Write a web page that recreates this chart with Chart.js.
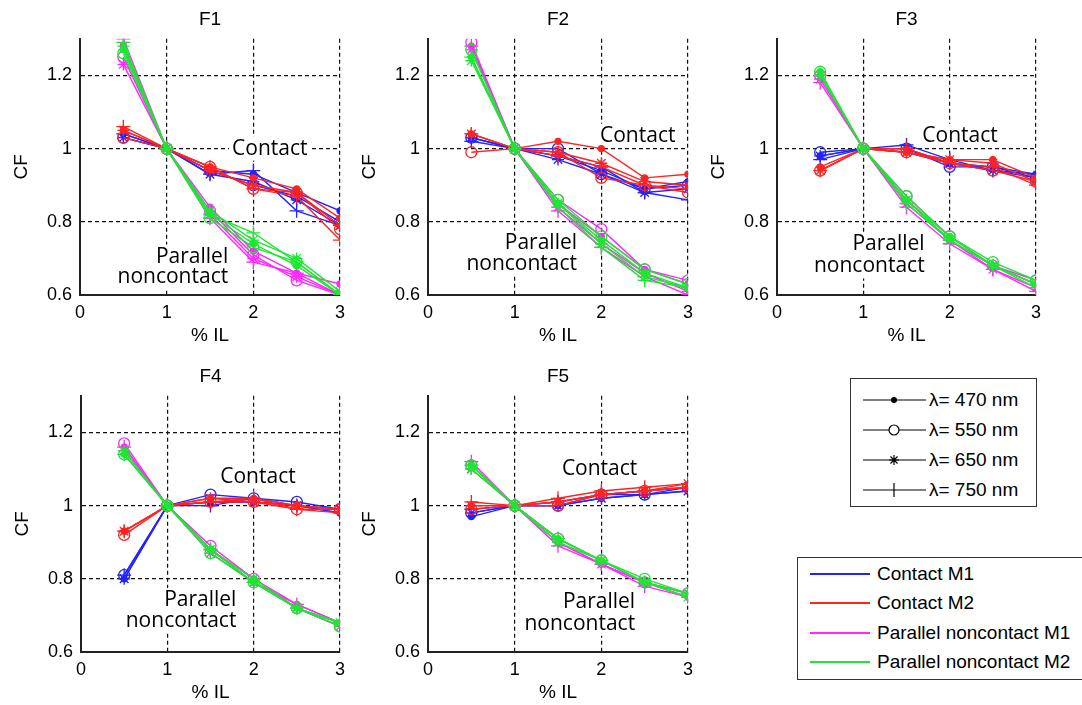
<!DOCTYPE html>
<html>
<head>
<meta charset="utf-8">
<script src="https://cdn.jsdelivr.net/npm/chart.js@4.4.1/dist/chart.umd.min.js"></script>
<style>
  body { margin: 0; background: #fff; width: 1082px; height: 705px; position: relative; overflow: hidden;
         font-family: "Liberation Sans", Arial, sans-serif; }
  canvas { position: absolute; }
  .legend { position: absolute; border: 1.5px solid #333; background: #fff; box-sizing: border-box; }
  .row { position: absolute; left: 0; height: 28px; display: flex; align-items: center; font-size: 19px; color: #000; white-space: nowrap; }
  .row svg { flex: none; }
</style>
</head>
<body>
<canvas id="f1" width="355" height="350" style="left:0px;top:0px"></canvas>
<canvas id="f2" width="355" height="350" style="left:348px;top:0px"></canvas>
<canvas id="f3" width="354" height="350" style="left:697px;top:0px"></canvas>
<canvas id="f4" width="354" height="350" style="left:1px;top:357px"></canvas>
<canvas id="f5" width="355" height="350" style="left:348px;top:357px"></canvas>
<div id="legendMarks" class="legend" style="left:850px;top:378px;width:187px;height:129px"></div>
<div id="legendGroups" class="legend" style="left:797px;top:557px;width:300px;height:123px"></div>
<script>
// x positions (% IL) and labels
const IL = [0.5, 1, 1.5, 2, 2.5, 3];
const WAVELENGTHS = ['470', '550', '650', '750'];
const GROUPS = ['Contact M1', 'Contact M2', 'Parallel noncontact M1', 'Parallel noncontact M2'];
const X_TICKS = [0, 1, 2, 3];
const Y_TICKS = [0.6, 0.8, 1, 1.2];

// each array: rows are lambda = 470, 550, 650, 750 nm
const f1ContactM1 = [
  [1.04, 1, 0.94, 0.93, 0.88, 0.83],
  [1.03, 1, 0.94, 0.90, 0.87, 0.80],
  [1.03, 1, 0.93, 0.91, 0.86, 0.79],
  [1.04, 1, 0.93, 0.94, 0.83, 0.79]];
const f1ContactM2 = [
  [1.05, 1, 0.95, 0.92, 0.89, 0.81],
  [1.03, 1, 0.95, 0.89, 0.88, 0.78],
  [1.05, 1, 0.94, 0.90, 0.88, 0.79],
  [1.06, 1, 0.95, 0.89, 0.87, 0.75]];
const f1ParallelM1 = [
  [1.28, 1, 0.84, 0.72, 0.66, 0.63],
  [1.25, 1, 0.83, 0.71, 0.64, 0.60],
  [1.23, 1, 0.82, 0.70, 0.65, 0.60],
  [1.30, 1, 0.81, 0.69, 0.66, 0.60]];
const f1ParallelM2 = [
  [1.27, 1, 0.82, 0.74, 0.68, 0.60],
  [1.26, 1, 0.81, 0.73, 0.69, 0.60],
  [1.28, 1, 0.83, 0.75, 0.70, 0.61],
  [1.29, 1, 0.82, 0.77, 0.69, 0.60]];

const f2ContactM1 = [
  [1.03, 1, 0.98, 0.94, 0.89, 0.91],
  [1.03, 1, 1.00, 0.93, 0.89, 0.90],
  [1.03, 1, 0.97, 0.93, 0.88, 0.89],
  [1.02, 1, 0.98, 0.95, 0.88, 0.86]];
const f2ContactM2 = [
  [1.04, 1, 1.02, 1.00, 0.92, 0.93],
  [0.99, 1, 0.99, 0.92, 0.90, 0.88],
  [1.04, 1, 0.99, 0.96, 0.91, 0.90],
  [1.04, 1, 0.98, 0.95, 0.90, 0.89]];
const f2ParallelM1 = [
  [1.28, 1, 0.85, 0.76, 0.67, 0.63],
  [1.29, 1, 0.86, 0.78, 0.67, 0.64],
  [1.27, 1, 0.84, 0.74, 0.66, 0.61],
  [1.28, 1, 0.83, 0.73, 0.65, 0.60]];
const f2ParallelM2 = [
  [1.25, 1, 0.85, 0.75, 0.66, 0.62],
  [1.27, 1, 0.86, 0.76, 0.67, 0.63],
  [1.24, 1, 0.85, 0.74, 0.65, 0.62],
  [1.25, 1, 0.84, 0.73, 0.64, 0.62]];

const f3ContactM1 = [
  [0.98, 1, 1.00, 0.96, 0.95, 0.93],
  [0.99, 1, 1.00, 0.95, 0.95, 0.92],
  [0.98, 1, 0.99, 0.96, 0.94, 0.92],
  [0.97, 1, 1.01, 0.97, 0.94, 0.93]];
const f3ContactM2 = [
  [0.95, 1, 0.99, 0.97, 0.97, 0.92],
  [0.94, 1, 0.99, 0.96, 0.94, 0.91],
  [0.94, 1, 0.99, 0.97, 0.96, 0.91],
  [0.94, 1, 1.00, 0.96, 0.95, 0.90]];
const f3ParallelM1 = [
  [1.20, 1, 0.86, 0.75, 0.68, 0.63],
  [1.20, 1, 0.87, 0.76, 0.68, 0.64],
  [1.19, 1, 0.85, 0.75, 0.67, 0.62],
  [1.18, 1, 0.84, 0.74, 0.67, 0.61]];
const f3ParallelM2 = [
  [1.21, 1, 0.86, 0.76, 0.68, 0.63],
  [1.21, 1, 0.87, 0.76, 0.69, 0.64],
  [1.20, 1, 0.86, 0.75, 0.68, 0.63],
  [1.20, 1, 0.85, 0.75, 0.68, 0.62]];

const f4ContactM1 = [
  [0.80, 1, 1.01, 1.01, 1.00, 0.98],
  [0.81, 1, 1.03, 1.02, 1.01, 0.99],
  [0.80, 1, 1.01, 1.01, 1.00, 0.99],
  [0.81, 1, 1.00, 1.02, 1.00, 0.98]];
const f4ContactM2 = [
  [0.93, 1, 1.02, 1.02, 1.00, 0.99],
  [0.92, 1, 1.01, 1.01, 0.99, 0.99],
  [0.93, 1, 1.02, 1.01, 1.00, 0.99],
  [0.93, 1, 1.01, 1.02, 0.99, 0.98]];
const f4ParallelM1 = [
  [1.16, 1, 0.88, 0.80, 0.73, 0.68],
  [1.17, 1, 0.89, 0.80, 0.72, 0.67],
  [1.15, 1, 0.87, 0.79, 0.72, 0.67],
  [1.16, 1, 0.88, 0.79, 0.73, 0.68]];
const f4ParallelM2 = [
  [1.14, 1, 0.88, 0.79, 0.72, 0.68],
  [1.14, 1, 0.87, 0.79, 0.72, 0.67],
  [1.15, 1, 0.88, 0.80, 0.72, 0.68],
  [1.14, 1, 0.88, 0.79, 0.72, 0.68]];

const f5ContactM1 = [
  [0.97, 1, 1.00, 1.02, 1.03, 1.04],
  [0.98, 1, 1.00, 1.03, 1.03, 1.05],
  [0.98, 1, 1.00, 1.02, 1.03, 1.04],
  [0.99, 1, 1.01, 1.03, 1.04, 1.05]];
const f5ContactM2 = [
  [1.00, 1, 1.01, 1.03, 1.04, 1.05],
  [0.99, 1, 1.00, 1.03, 1.04, 1.05],
  [1.00, 1, 1.01, 1.03, 1.04, 1.06],
  [1.01, 1, 1.02, 1.04, 1.05, 1.06]];
const f5ParallelM1 = [
  [1.11, 1, 0.90, 0.84, 0.79, 0.75],
  [1.11, 1, 0.91, 0.85, 0.79, 0.76],
  [1.10, 1, 0.90, 0.84, 0.79, 0.76],
  [1.12, 1, 0.89, 0.84, 0.78, 0.75]];
const f5ParallelM2 = [
  [1.11, 1, 0.91, 0.85, 0.79, 0.76],
  [1.11, 1, 0.91, 0.85, 0.80, 0.76],
  [1.10, 1, 0.90, 0.85, 0.79, 0.75],
  [1.11, 1, 0.91, 0.85, 0.79, 0.76]];

// styles
const GROUP_COLORS = ['rgb(35,35,255)', 'rgb(255,35,35)', 'rgb(255,40,255)', 'rgb(30,230,50)'];
const MARKERS = [
  { style: 'circle', r: 3, fill: true },
  { style: 'circle', r: 5.5, fill: false },
  { style: 'star', r: 6, fill: false },
  { style: 'cross', r: 7, fill: false }
];
const tickFont = { family: '"Liberation Sans", Arial, sans-serif', size: 18 };
const labelFont = { family: '"Liberation Sans", Arial, sans-serif', size: 19 };

// "Contact" / "Parallel noncontact" text in data coordinates, on a white box
const notesPlugin = {
  id: 'notes',
  beforeDatasetsDraw(chart, args, opts) {
    const { ctx, scales: { x, y } } = chart;
    ctx.save();
    ctx.font = '21px "Open Sans", "DejaVu Sans", sans-serif';
    ctx.textBaseline = 'middle';
    opts.items.forEach(n => {
      const px = x.getPixelForValue(n.x);
      const py = y.getPixelForValue(n.y);
      const w = ctx.measureText(n.text).width;
      const left = n.align === 'right' ? px - w : px - w / 2;
      ctx.fillStyle = '#fff';
      ctx.fillRect(left - 3, py - 12, w + 6, 24);
      ctx.fillStyle = '#000';
      ctx.textAlign = n.align;
      ctx.fillText(n.text, px, py);
    });
    ctx.restore();
  }
};

function axis(min, max, ticks, fit, title, titlePad, tickPad) {
  return {
    type: 'linear', min, max,
    afterFit: fit,
    afterBuildTicks: s => { s.ticks = ticks.map(v => ({ value: v })); },
    ticks: { color: '#000', font: tickFont, padding: tickPad, maxRotation: 0, callback: v => String(v) },
    grid: { color: '#111', lineWidth: 1.2, drawTicks: false },
    border: { color: '#222', width: 2, dash: [4, 3] },
    title: { display: true, text: title, color: '#000', font: labelFont, padding: titlePad }
  };
}

function makePanel(id, title, groups, notes) {
  const datasets = [];
  groups.forEach((grp, g) => {
    grp.forEach((vals, w) => {
      const m = MARKERS[w];
      datasets.push({
        label: GROUPS[g] + ', λ= ' + WAVELENGTHS[w] + ' nm',
        data: IL.map((x, i) => ({ x: x, y: vals[i] })),
        borderColor: GROUP_COLORS[g],
        backgroundColor: m.fill ? GROUP_COLORS[g] : 'transparent',
        borderWidth: 1.4,
        pointStyle: m.style,
        pointRadius: m.r,
        pointBorderWidth: 1.3,
        order: 4 - g
      });
    });
  });

  new Chart(document.getElementById(id), {
    type: 'line',
    data: { datasets },
    options: {
      responsive: false,
      animation: false,
      events: [],
      layout: { padding: { left: 0, top: 0, right: 15, bottom: 0 } },
      plugins: {
        legend: { display: false },
        tooltip: { enabled: false },
        title: { display: true, fullSize: false, text: title, color: '#000',
                 font: { ...labelFont, weight: 'normal' }, padding: { top: 8, bottom: 8 } },
        notes: { items: notes }
      },
      scales: {
        x: axis(0, 3, X_TICKS, s => { s.height = 55; }, '% IL', { top: 0, bottom: 3 }, 7),
        y: axis(0.6, 1.3, Y_TICKS, s => { s.width = 80; }, 'CF', { top: 10, bottom: 0 }, 8)
      }
    },
    plugins: [notesPlugin]
  });
}

function notesAt(cx, cy, px, py1, py2) {
  return [
    { text: 'Contact', x: cx, y: cy, align: 'center' },
    { text: 'Parallel', x: px, y: py1, align: 'right' },
    { text: 'noncontact', x: px, y: py2, align: 'right' }
  ];
}

makePanel('f1', 'F1', [f1ContactM1, f1ContactM2, f1ParallelM1, f1ParallelM2], notesAt(2.19, 1.0, 1.71, 0.705, 0.65));
makePanel('f2', 'F2', [f2ContactM1, f2ContactM2, f2ParallelM1, f2ParallelM2], notesAt(2.42, 1.035, 1.72, 0.743, 0.684));
makePanel('f3', 'F3', [f3ContactM1, f3ContactM2, f3ParallelM1, f3ParallelM2], notesAt(2.12, 1.035, 1.71, 0.738, 0.678));
makePanel('f4', 'F4', [f4ContactM1, f4ContactM2, f4ParallelM1, f4ParallelM2], notesAt(2.05, 1.079, 1.80, 0.742, 0.685));
makePanel('f5', 'F5', [f5ContactM1, f5ContactM2, f5ParallelM1, f5ParallelM2], notesAt(1.98, 1.099, 2.39, 0.737, 0.677));

// legends
function markerSvg(i, cx) {
  const c = '#000';
  if (i === 0) return `<circle cx="${cx}" cy="14" r="3" fill="${c}"/>`;
  if (i === 1) return `<circle cx="${cx}" cy="14" r="5" fill="#fff" stroke="${c}" stroke-width="1.2"/>`;
  if (i === 2) return `<path d="M${cx - 5} 14h10M${cx} 9v10M${cx - 3.5} 10.5l7 7M${cx + 3.5} 10.5l-7 7" stroke="${c}" stroke-width="1.2"/>`;
  return `<path d="M${cx} 7v14" stroke="${c}" stroke-width="1.2"/>`;
}

const legendMarks = document.getElementById('legendMarks');
WAVELENGTHS.forEach((w, i) => {
  const row = document.createElement('div');
  row.className = 'row';
  row.style.top = (7 + i * 30) + 'px';
  row.innerHTML = `<svg width="78" height="28"><line x1="12" y1="14" x2="75" y2="14" stroke="#000" stroke-width="1.2"/>${markerSvg(i, 43)}</svg><span>λ= ${w} nm</span>`;
  legendMarks.appendChild(row);
});

const legendGroups = document.getElementById('legendGroups');
GROUPS.forEach((name, i) => {
  const row = document.createElement('div');
  row.className = 'row';
  row.style.top = (2 + i * 29.4) + 'px';
  row.innerHTML = `<svg width="79" height="28"><line x1="12" y1="14" x2="72" y2="14" stroke="${GROUP_COLORS[i]}" stroke-width="2"/></svg><span>${name}</span>`;
  legendGroups.appendChild(row);
});
</script>
</body>
</html>
